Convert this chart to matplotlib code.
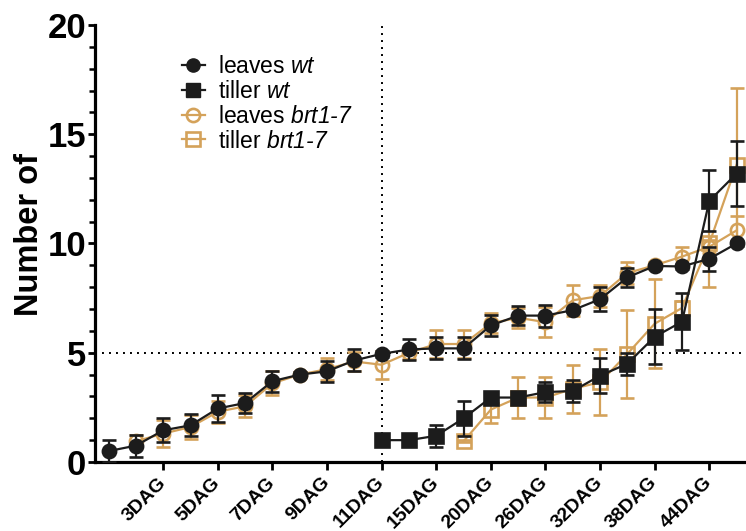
import matplotlib
matplotlib.use('Agg')
import matplotlib.pyplot as plt
import numpy as np
from matplotlib.lines import Line2D
from matplotlib.ticker import MultipleLocator

plt.rcParams['font.family'] = ['Liberation Sans', 'DejaVu Sans']
plt.rcParams['mathtext.fontset'] = 'custom'
plt.rcParams['mathtext.it'] = 'Liberation Sans:italic'
plt.rcParams['mathtext.rm'] = 'Liberation Sans:italic'

nan = np.nan

# x categories: 24 sampling points, labelled every second one
n_points = 24
tick_positions = [2, 4, 6, 8, 10, 12, 14, 16, 18, 20, 22]
tick_labels = ['3DAG', '5DAG', '7DAG', '9DAG', '11DAG', '15DAG',
               '20DAG', '26DAG', '32DAG', '38DAG', '44DAG']

leaves_wt = [0.5, 0.75, 1.45, 1.68, 2.45, 2.7, 3.7, 4.0, 4.15, 4.65, 4.95, 5.15,
             5.2, 5.2, 6.25, 6.7, 6.7, 6.95, 7.45, 8.45, 8.97, 8.95, 9.3, 10.0]
leaves_wt_err = [0.5, 0.5, 0.55, 0.5, 0.6, 0.45, 0.48, 0.1, 0.47, 0.5, 0.15, 0.5,
                 0.5, 0.5, 0.5, 0.45, 0.5, 0.1, 0.55, 0.45, 0.1, 0.1, 0.55, 0.1]

tiller_wt = [nan] * 10 + [1.0, 1.0, 1.2, 2.0, 2.95, 2.95, 3.2, 3.25, 3.95, 4.5,
                          5.73, 6.42, 11.95, 13.2]
tiller_wt_err = [nan] * 10 + [0.05, 0.05, 0.5, 0.8, 0.1, 0.1, 0.45, 0.5, 0.8, 0.5,
                              1.25, 1.3, 1.4, 1.5]

leaves_brt = [nan, 0.95, 1.3, 1.6, 2.3, 2.55, 3.6, 4.0, 4.25, 4.6, 4.45, 5.0,
              5.4, 5.4, 6.35, 6.6, 6.4, 7.4, 7.6, 8.65, 9.0, 9.4, 9.85, 10.6]
leaves_brt_err = [nan, 0.3, 0.6, 0.55, 0.5, 0.5, 0.55, 0.1, 0.5, 0.45, 0.65, 0.3,
                  0.65, 0.65, 0.45, 0.45, 0.7, 0.7, 0.5, 0.5, 0.15, 0.45, 0.3, 0.65]

tiller_brt = [nan] * 13 + [0.95, 2.4, 2.95, 2.95, 3.35, 3.65, 4.95, 6.33, 7.05,
                           10.0, 13.6]
tiller_brt_err = [nan] * 13 + [0.05, 0.6, 0.95, 0.95, 1.1, 1.5, 2.0, 2.05, 0.3,
                               2.0, 3.5]

BLACK = '#1c1c1c'
TAN = '#d4a25a'

fig = plt.figure(figsize=(7.46, 5.31), dpi=100)
ax = fig.add_axes([95 / 746, 69 / 531, 668.9 / 746, 437 / 531])

x = np.arange(n_points)


def plot_series(vals, errs, color, marker, filled, z):
    v = np.array(vals, float)
    e = np.array(errs, float)
    m = ~np.isnan(v)
    ax.errorbar(x[m], v[m], yerr=e[m], color=color, marker=marker, ms=9.5,
                mfc=color if filled else 'none', mec=color, mew=1.9,
                lw=1.6, elinewidth=1.6, capsize=4.8, capthick=1.6, zorder=z)


ax.axvline(10, ls=(0, (1, 2.6)), color='black', lw=1.4, zorder=1)
ax.axhline(5, ls=(0, (1, 2.6)), color='black', lw=1.4, zorder=1)

plot_series(tiller_brt, tiller_brt_err, TAN, 's', False, 3)
plot_series(leaves_brt, leaves_brt_err, TAN, 'o', False, 4)
plot_series(tiller_wt, tiller_wt_err, BLACK, 's', True, 5)
plot_series(leaves_wt, leaves_wt_err, BLACK, 'o', True, 6)

ax.set_xlim(-0.5, 24.0)
ax.set_ylim(0, 20)
for s in ['top', 'right']:
    ax.spines[s].set_visible(False)
for s in ['left', 'bottom']:
    ax.spines[s].set_linewidth(2.3)

ax.set_yticks([0, 5, 10, 15, 20])
ax.yaxis.set_minor_locator(MultipleLocator(1))
ax.tick_params(axis='y', which='major', length=5, width=2.0, pad=1.5,
               labelsize=25)
ax.tick_params(axis='y', which='minor', length=4, width=1.8)
for lbl in ax.get_yticklabels():
    lbl.set_fontweight('bold')

ax.set_xticks(tick_positions)
ax.set_xticklabels(tick_labels, fontsize=14, fontweight='bold')
ax.tick_params(axis='x', which='major', length=6, width=2.0, pad=7)
plt.setp(ax.get_xticklabels(), rotation=45, ha='right', va='center',
         rotation_mode='anchor')

ax.set_ylabel('Number of', fontsize=23.5, fontweight='bold')
ax.yaxis.set_label_coords((45 - 95) / 668.9, (462 - 235) / 437)

handles = [
    Line2D([], [], color=BLACK, marker='o', ms=9.5, mfc=BLACK, mec=BLACK, lw=1.6),
    Line2D([], [], color=BLACK, marker='s', ms=9.5, mfc=BLACK, mec=BLACK, lw=1.6),
    Line2D([], [], color=TAN, marker='o', ms=9.5, mfc='none', mec=TAN, mew=1.9, lw=1.6),
    Line2D([], [], color=TAN, marker='s', ms=9.5, mfc='none', mec=TAN, mew=1.9, lw=1.6),
]
labels = ['leaves $\\mathrm{wt}$', 'tiller $\\mathrm{wt}$',
          'leaves $\\mathrm{brt1\\text{-}7}$', 'tiller $\\mathrm{brt1\\text{-}7}$']
leg = ax.legend(handles, labels, loc='upper left',
                bbox_to_anchor=(182 / 746, 1 - 55 / 531),
                bbox_transform=fig.transFigure, frameon=False,
                fontsize=16.5, handlelength=1.0, handletextpad=0.55,
                labelspacing=0.08, borderpad=0, borderaxespad=0)

fig.savefig('out.png', dpi=100)
